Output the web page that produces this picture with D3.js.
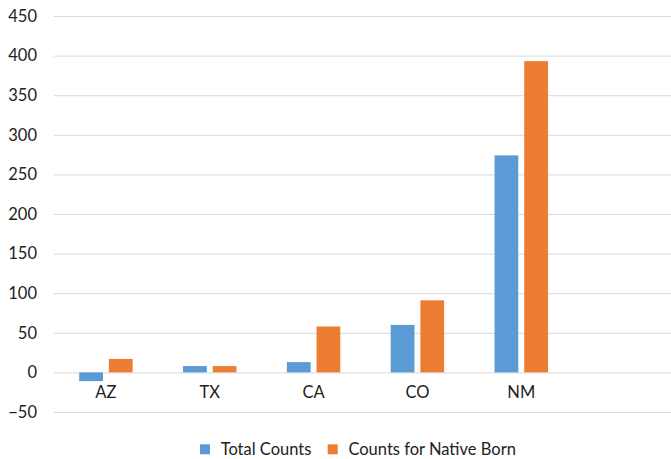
<!DOCTYPE html>
<html>
<head>
<meta charset="utf-8">
<script src="https://cdn.jsdelivr.net/npm/d3@7"></script>
<style>
  html, body { margin: 0; padding: 0; background: #fff; }
  svg { display: block; }
  text { font-family: Lato, "Liberation Sans", Arial, sans-serif; fill: #222; }
</style>
</head>
<body>
<script>
// Category states (the last slot is left empty on the axis)
const categories = ["AZ", "TX", "CA", "CO", "NM", ""];
const seriesNames = ["Total Counts", "Counts for Native Born"];
const totalCounts = [-11, 8, 13, 60, 274];
const nativeBornCounts = [17, 8, 58, 91, 393];
const yTicks = [-50, 0, 50, 100, 150, 200, 250, 300, 350, 400, 450];
const colors = ["#5B9BD5", "#ED7D31"];

const W = 671, H = 459;
const FONT = "Lato, Liberation Sans, Arial, sans-serif";
const FS = 16.5;
const svg = d3.select("body").append("svg").attr("width", W).attr("height", H);

const y = d3.scaleLinear().domain([-50, 450]).range([412, 16]);
const x0 = d3.scaleBand().domain(categories).range([54, 677]).paddingInner(0).paddingOuter(0);
const x1 = d3.scaleBand().domain(seriesNames).range([-26.7, 26.7]).paddingInner(0.2).paddingOuter(0);

// gridlines
svg.append("g").selectAll("line").data(yTicks).join("line")
  .attr("x1", 54).attr("x2", W)
  .attr("y1", d => y(d) + 0.5).attr("y2", d => y(d) + 0.5)
  .attr("stroke", "#d9d9d9").attr("stroke-width", 1);

// y axis labels
const yAxis = d3.axisLeft(y).tickValues(yTicks).tickSize(0).tickPadding(0)
  .tickFormat(d => d < 0 ? "\u2212" + Math.abs(d) : d);
const gy = svg.append("g").attr("transform", "translate(37,0)").call(yAxis);
gy.select(".domain").remove();
gy.selectAll("text").attr("font-size", FS).attr("font-family", FONT).attr("fill", "#222");

// bars
const rows = categories.slice(0, totalCounts.length).map((c, i) => ({ c, vals: [totalCounts[i], nativeBornCounts[i]] }));
const groups = svg.append("g").selectAll("g").data(rows).join("g")
  .attr("transform", d => `translate(${x0(d.c) + x0.bandwidth() / 2},0)`);
groups.selectAll("rect").data(d => d.vals.map((v, k) => ({ v, s: seriesNames[k], k }))).join("rect")
  .attr("x", d => x1(d.s))
  .attr("width", x1.bandwidth())
  .attr("y", d => y(Math.max(0, d.v)))
  .attr("height", d => Math.abs(y(d.v) - y(0)))
  .attr("fill", d => colors[d.k]);

// x axis labels
const xAxis = d3.axisBottom(x0).tickSize(0).tickPadding(0);
const gx = svg.append("g").attr("transform", "translate(0,386)").call(xAxis);
gx.select(".domain").remove();
gx.selectAll("text").attr("font-size", FS).attr("font-family", FONT).attr("fill", "#222");

// legend
const legend = svg.append("g");
const lx = [200, 327.7];
seriesNames.forEach((s, i) => {
  legend.append("rect").attr("x", lx[i]).attr("y", 444.3).attr("width", 10).attr("height", 10).attr("fill", colors[i]);
  legend.append("text").attr("x", lx[i] + 20.7).attr("y", 455).attr("font-size", FS).text(s);
});
</script>
</body>
</html>
